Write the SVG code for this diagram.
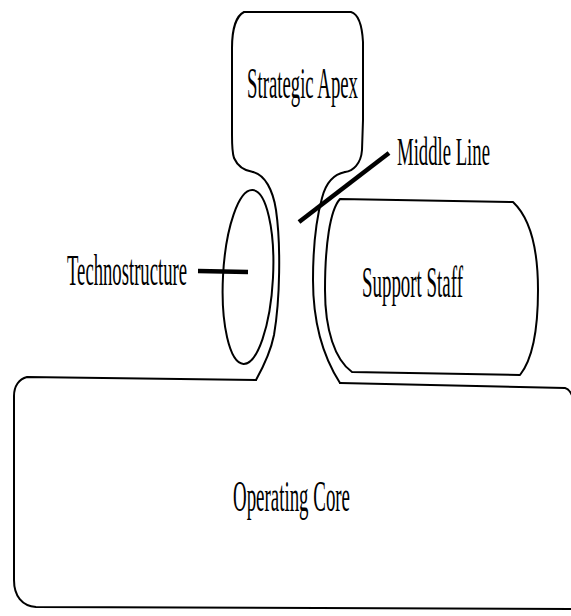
<svg xmlns="http://www.w3.org/2000/svg" width="571" height="616" viewBox="0 0 571 616">
  <style>
    .outline { fill: none; stroke: #000; stroke-width: 2; stroke-linejoin: round; stroke-linecap: round; }
    .leader { fill: none; stroke: #000; stroke-width: 4.5; stroke-linecap: butt; }
    .label { font-family: "Liberation Serif", "Times New Roman", serif; font-size: 44px; fill: #000; }
  </style>
  <rect width="571" height="616" fill="#fff"/>

  <!-- Strategic Apex: rounded head narrowing into the neck -->
  <g id="strategic-apex">
    <path class="outline" d="M 253,172 C 246,171 238,167 234,158 C 232,152 232,145 232,135 L 232,48 C 232,30 236,16 244,12 L 351,12 C 358,14 362,24 363,42 L 363,120 L 362,150 C 361,164 353,171 345,172"/>
    <text class="label" transform="translate(247 98) scale(0.4225 1)" textLength="262.7" lengthAdjust="spacingAndGlyphs">Strategic Apex</text>
  </g>

  <!-- Middle Line label -->
  <g id="middle-line">
    <text class="label" transform="translate(397 165) scale(0.456 1)" style="font-size:41px" textLength="203.9" lengthAdjust="spacingAndGlyphs">Middle Line</text>
  </g>

  <!-- Technostructure: outer flank plus inner ellipse -->
  <g id="technostructure">
    <path class="outline" d="M 253,172 C 265,175 273,190 276,210 C 281,245 280,300 274,335 C 271,350 266,362 256,380"/>
    <ellipse class="outline" cx="248" cy="277" rx="25" ry="87" transform="rotate(3 248 277)"/>
    <text class="label" transform="translate(67 285) scale(0.4197 1)" textLength="285.9" lengthAdjust="spacingAndGlyphs">Technostructure</text>
  </g>

  <!-- Support Staff: outer flank plus inner rounded block -->
  <g id="support-staff">
    <path class="outline" d="M 345,172 C 335,174 326,182 322,198 C 316,220 313,250 313,280 C 313,320 322,355 340,383"/>
    <path class="outline" d="M 340,199 L 513,202 C 530,218 538,250 538,290 C 538,330 532,360 520,375 L 352,372 C 335,360 325,330 325,290 C 325,245 330,210 340,199 Z"/>
    <text class="label" transform="translate(362 297) scale(0.428 1)" textLength="235.9" lengthAdjust="spacingAndGlyphs">Support Staff</text>
  </g>

  <!-- Operating Core: wide base block -->
  <g id="operating-core">
    <path class="outline" d="M 256,380 L 27,377 C 19,379 14,386 14,396 L 14,580 C 14,596 22,606 36,607 L 575,609"/>
    <path class="outline" d="M 340,383 L 565,388 C 569,389 571,392 573,398"/>
    <text class="label" transform="translate(233 511) scale(0.4294 1)" textLength="272.5" lengthAdjust="spacingAndGlyphs">Operating Core</text>
  </g>

  <!-- Leader lines pointing from labels into the shapes -->
  <g id="connectors">
    <line class="leader" x1="198" y1="271" x2="248" y2="272"/>
    <line class="leader" x1="299" y1="222" x2="389" y2="153"/>
  </g>
</svg>
